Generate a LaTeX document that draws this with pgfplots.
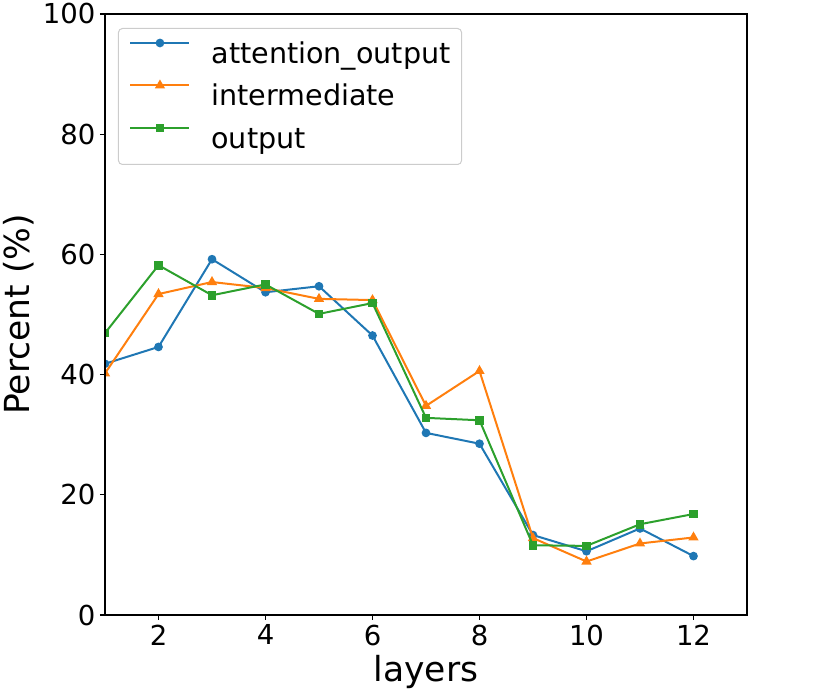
\documentclass[border=0pt]{standalone}
\usepackage{pgfplots}
\pgfplotsset{compat=1.18}
\usepackage{fontspec}
\setmainfont{DejaVu Sans}
\definecolor{tabblue}{HTML}{1F77B4}
\definecolor{taborange}{HTML}{FF7F0E}
\definecolor{tabgreen}{HTML}{2CA02C}

\begin{document}
\begin{tikzpicture}
\useasboundingbox (-105pt,-77pt) rectangle (725pt,615pt);
\begin{axis}[
    at={(0,0)}, anchor=south west,
    scale only axis,
    width=642pt, height=601pt,
    xmin=1, xmax=13,
    ymin=0, ymax=100,
    xtick={2,4,...,12},
    ytick={0,20,...,100},
    tick pos=left,
    tick align=outside,
    major tick length=5pt,
    tick style={black, line width=1.1pt},
    axis line style={black, line width=1.1pt},
    axis on top,
    clip marker paths=true,
    /pgf/number format/assume math mode=true,
    ticklabel style={font=\fontsize{27.5}{33}\selectfont, inner sep=4.5pt},
    xlabel={layers},
    ylabel={Percent (\%)},
    label style={font=\fontsize{34.5}{41}\selectfont},
    xlabel style={at={(axis description cs:0.5,-0.094)}, anchor=center},
    ylabel style={at={(axis description cs:-0.134,0.5)}, anchor=center},
    legend cell align=left,
    legend style={
        at={(axis description cs:0.0202,0.9767)}, anchor=north west,
        draw=black!20, line width=1pt, rounded corners=4pt, fill=white,
        font=\fontsize{28.6}{34}\selectfont,
        inner xsep=11pt, inner ysep=10pt,
        row sep=11.5pt, column sep=21pt,
        nodes={inner sep=0pt, text height=25pt, text depth=6pt},
    },
    legend image code/.code={
        \draw[mark repeat=2, mark phase=2, #1]
            plot coordinates {(0pt,11pt) (29.5pt,11pt) (59pt,11pt)};
    },
]
\addplot[tabblue, line width=2pt, mark=*, mark size=3.3pt, mark options={solid}]
    coordinates {(1,41.8) (2,44.6) (3,59.2) (4,53.7) (5,54.7) (6,46.5)
                 (7,30.3) (8,28.5) (9,13.3) (10,10.6) (11,14.4) (12,9.8)};
\addlegendentry{attention\_output}
\addplot[taborange, line width=2pt, mark=triangle*, mark size=4pt, mark options={solid}]
    coordinates {(1,40.2) (2,53.4) (3,55.4) (4,54.4) (5,52.6) (6,52.4)
                 (7,34.8) (8,40.6) (9,12.8) (10,8.9) (11,11.9) (12,12.9)};
\addlegendentry{intermediate}
\addplot[tabgreen, line width=2pt, mark=square*, mark size=3.3pt, mark options={solid}]
    coordinates {(1,46.9) (2,58.2) (3,53.2) (4,55.0) (5,50.1) (6,51.9)
                 (7,32.8) (8,32.4) (9,11.6) (10,11.5) (11,15.1) (12,16.8)};
\addlegendentry{output}
\end{axis}
\end{tikzpicture}
\end{document}
